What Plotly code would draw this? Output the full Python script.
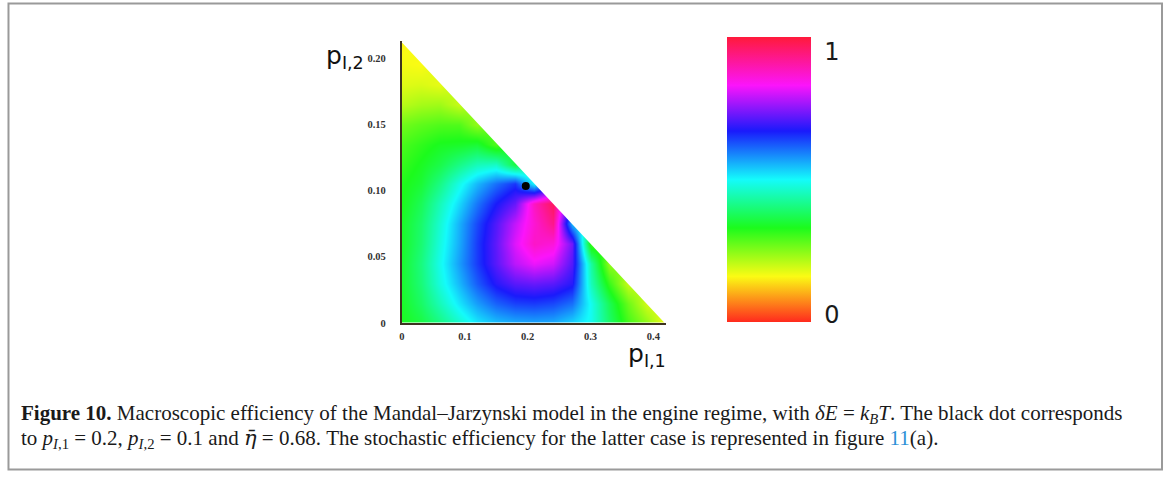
import plotly.graph_objects as go

W, H = 1168, 477

# ---- data ----
P1_GRID = [0.00, 0.03, 0.06, 0.09, 0.12, 0.15, 0.18, 0.21, 0.24, 0.27, 0.30, 0.33, 0.36, 0.39, 0.42]
P2_GRID = [0.000, 0.015, 0.030, 0.045, 0.060, 0.075, 0.090, 0.105, 0.120, 0.135, 0.150, 0.165, 0.180, 0.195, 0.210]

# macroscopic efficiency (normalised), one row per p_I,2 value; rows stop at the triangle edge
ETA_ROW_00 = [0.335, 0.36, 0.41, 0.465, 0.515, 0.545, 0.56, 0.565, 0.56, 0.53, 0.49, 0.39, 0.30, 0.24, 0.16]
ETA_ROW_01 = [0.34, 0.385, 0.45, 0.515, 0.57, 0.615, 0.64, 0.645, 0.635, 0.605, 0.49, 0.375, 0.27, 0.19]
ETA_ROW_02 = [0.345, 0.40, 0.48, 0.55, 0.62, 0.68, 0.715, 0.725, 0.715, 0.68, 0.45, 0.31, 0.20]
ETA_ROW_03 = [0.345, 0.405, 0.49, 0.57, 0.645, 0.715, 0.785, 0.82, 0.80, 0.71, 0.43, 0.24]
ETA_ROW_04 = [0.34, 0.395, 0.48, 0.56, 0.645, 0.72, 0.81, 0.875, 0.86, 0.73, 0.30]
ETA_ROW_05 = [0.34, 0.39, 0.47, 0.555, 0.635, 0.71, 0.79, 0.865, 0.93, 0.55]
ETA_ROW_06 = [0.33, 0.375, 0.45, 0.525, 0.60, 0.67, 0.725, 0.88, 0.97]
ETA_ROW_07 = [0.325, 0.35, 0.41, 0.485, 0.55, 0.605, 0.65, 0.50]
ETA_ROW_08 = [0.31, 0.335, 0.365, 0.41, 0.45, 0.46, 0.36]
ETA_ROW_09 = [0.295, 0.315, 0.335, 0.34, 0.35, 0.29]
ETA_ROW_10 = [0.265, 0.28, 0.29, 0.29, 0.24]
ETA_ROW_11 = [0.21, 0.225, 0.23, 0.20]
ETA_ROW_12 = [0.18, 0.185, 0.175]
ETA_ROW_13 = [0.165, 0.16]
ETA_ROW_14 = [0.155]

ETA_ROWS = [ETA_ROW_00, ETA_ROW_01, ETA_ROW_02, ETA_ROW_03, ETA_ROW_04, ETA_ROW_05, ETA_ROW_06,
            ETA_ROW_07, ETA_ROW_08, ETA_ROW_09, ETA_ROW_10, ETA_ROW_11, ETA_ROW_12, ETA_ROW_13, ETA_ROW_14]

# triangle limits of the allowed region
TRI_P1_MAX = 0.418
TRI_P2_MAX = 0.212

# black dot
DOT_P1 = [0.197]
DOT_P2 = [0.1035]

X_TICKS = [0, 0.1, 0.2, 0.3, 0.4]
X_TICK_TEXT = ["0", "0.1", "0.2", "0.3", "0.4"]
Y_TICKS = [0, 0.05, 0.10, 0.15, 0.20]
Y_TICK_TEXT = ["0", "0.05", "0.10", "0.15", "0.20"]

CB_TICKS = [0.025, 0.95]
CB_TICK_TEXT = ["0", "1"]

# ---- build ----
z = [row + [None] * (len(P1_GRID) - len(row)) for row in ETA_ROWS]

hsv_scale = [
    [0.00, "#ff2a1e"],
    [0.16, "#fbfb14"],
    [0.33, "#1cfb1c"],
    [0.50, "#14fbfb"],
    [0.67, "#1a1afb"],
    [0.83, "#fb14fb"],
    [1.00, "#ff1a3a"],
]

def px_x(p):
    return p / W

def px_y(p):
    return 1 - p / H

fig = go.Figure()

fig.add_trace(go.Heatmap(
    x=P1_GRID, y=P2_GRID, z=z,
    zmin=0, zmax=1, zsmooth="best", connectgaps=True,
    colorscale=hsv_scale,
    hoverinfo="skip",
    colorbar=dict(
        x=px_x(726), xanchor="left",
        y=px_y(182), yanchor="middle",
        len=285, lenmode="pixels",
        thickness=84, thicknessmode="pixels",
        xpad=0, ypad=0, outlinewidth=0,
        tickvals=CB_TICKS, ticktext=CB_TICK_TEXT,
        ticks="outside", ticklen=9, tickcolor="rgba(0,0,0,0)",
        tickfont=dict(family="DejaVu Sans", size=24, color="#1a1a1a"),
    ),
))

# white mask above the hypotenuse
fig.add_trace(go.Scatter(
    x=[0, TRI_P1_MAX, TRI_P1_MAX * 1.5, TRI_P1_MAX * 1.5, 0, 0],
    y=[TRI_P2_MAX, 0, 0, TRI_P2_MAX * 1.5, TRI_P2_MAX * 1.5, TRI_P2_MAX],
    mode="lines", fill="toself", fillcolor="white",
    line=dict(width=0, color="white"), hoverinfo="skip", showlegend=False,
))

fig.add_trace(go.Scatter(
    x=DOT_P1, y=DOT_P2, mode="markers",
    marker=dict(size=8, color="black"), hoverinfo="skip", showlegend=False,
))

tick_font = dict(family="Liberation Serif", size=10.5, color="#333333", weight="bold")

fig.update_layout(
    width=W, height=H,
    margin=dict(l=0, r=0, t=0, b=0),
    paper_bgcolor="white", plot_bgcolor="white",
    showlegend=False,
    xaxis=dict(
        domain=[px_x(400), px_x(665)],
        range=[0, 0.4206], showgrid=False, zeroline=False,
        showline=True, linecolor="#3e3320", linewidth=2,
        tickvals=X_TICKS, ticktext=X_TICK_TEXT, ticks="",
        ticklabelstandoff=3, tickfont=tick_font, fixedrange=True,
    ),
    yaxis=dict(
        domain=[px_y(327), px_y(42)],
        range=[0, 0.2127], showgrid=False, zeroline=False,
        showline=True, linecolor="#3e3320", linewidth=2,
        tickvals=Y_TICKS, ticktext=Y_TICK_TEXT, ticks="",
        ticklabelstandoff=12, tickfont=tick_font, fixedrange=True,
    ),
)

# thin white cover along the clipped top edge of the plot area
fig.add_shape(
    type="rect", xref="paper", yref="paper",
    x0=px_x(401.5), x1=px_x(690), y0=px_y(43), y1=px_y(36),
    line=dict(width=0), fillcolor="white", layer="above",
)

# axis titles
fig.add_annotation(
    text="p<sub>I,2</sub>", xref="paper", yref="paper",
    x=px_x(364), y=px_y(58), xanchor="right", yanchor="middle", showarrow=False,
    font=dict(family="DejaVu Sans", size=25, color="#111111"),
)
fig.add_annotation(
    text="p<sub>I,1</sub>", xref="paper", yref="paper",
    x=px_x(667), y=px_y(360), xanchor="right", yanchor="middle", showarrow=False,
    font=dict(family="DejaVu Sans", size=25, color="#111111"),
)

# caption
cap_font = dict(family="Liberation Serif", size=21, color="#1a1a1a")
fig.add_annotation(
    text=("<b>Figure 10.</b> Macroscopic efficiency of the Mandal–Jarzynski model in the engine regime, "
          "with <i>δE</i> = <i>k</i><sub><i>B</i></sub><i>T</i>. The black dot corresponds"),
    xref="paper", yref="paper", x=px_x(16), y=px_y(419), xanchor="left", yanchor="middle",
    showarrow=False, font=cap_font, align="left",
)
fig.add_annotation(
    text=("to <i>p</i><sub><i>I</i>,1</sub> = 0.2, <i>p</i><sub><i>I</i>,2</sub> = 0.1 and "
          "<span style=\"font-family:'DejaVu Serif'\"><i>η̄</i></span> = 0.68. "
          "The stochastic efficiency for the latter case is represented in figure "
          "<span style='color:#2b8fd6'>11</span>(a)."),
    xref="paper", yref="paper", x=px_x(16), y=px_y(445), xanchor="left", yanchor="middle",
    showarrow=False, font=cap_font, align="left",
)

# outer frame
fig.add_shape(
    type="rect", xref="paper", yref="paper",
    x0=px_x(5.5), x1=px_x(1162), y0=px_y(475.5), y1=px_y(3.5),
    line=dict(color="#9a9a9a", width=2), fillcolor="rgba(0,0,0,0)", layer="above",
)

fig.write_html("out.html")
